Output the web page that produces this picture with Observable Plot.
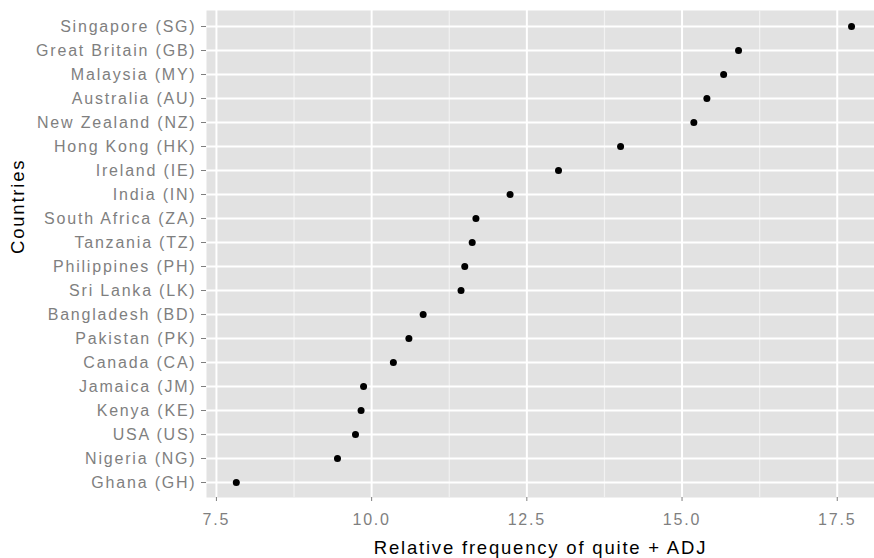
<!DOCTYPE html>
<html>
<head>
<meta charset="utf-8">
<script src="https://cdn.jsdelivr.net/npm/d3@7"></script>
<script src="https://cdn.jsdelivr.net/npm/@observablehq/plot@0.6"></script>
<style>
  html, body { margin: 0; padding: 0; background: #ffffff; }
</style>
</head>
<body>
<div id="chart"></div>
<script>
const countries = [
  "Singapore (SG)", "Great Britain (GB)", "Malaysia (MY)", "Australia (AU)",
  "New Zealand (NZ)", "Hong Kong (HK)", "Ireland (IE)", "India (IN)",
  "South Africa (ZA)", "Tanzania (TZ)", "Philippines (PH)", "Sri Lanka (LK)",
  "Bangladesh (BD)", "Pakistan (PK)", "Canada (CA)", "Jamaica (JM)",
  "Kenya (KE)", "USA (US)", "Nigeria (NG)", "Ghana (GH)"
];
const values = [
  17.73, 15.91, 15.67, 15.40,
  15.19, 14.01, 13.01, 12.23,
  11.68, 11.62, 11.50, 11.44,
  10.83, 10.60, 10.35, 9.87,
  9.83, 9.74, 9.45, 7.82
];
const xTicks = [7.5, 10, 12.5, 15, 17.5];
const xMinor = [8.75, 11.25, 13.75, 16.25];
const xTitle = "Relative frequency of quite + ADJ";
const yTitle = "Countries";

const data = countries.map((c, i) => ({country: c, value: values[i]}));

const chart = Plot.plot({
  width: 874,
  height: 558,
  marginLeft: 206,
  marginRight: 0,
  marginTop: 10,
  marginBottom: 61,
  style: {fontFamily: "'Liberation Sans', Arial, sans-serif", letterSpacing: "1.8px", background: "#ffffff"},
  x: {domain: [7.34, 18.1], label: null},
  y: {type: "point", domain: countries, padding: 0.6, label: null},
  marks: [
    Plot.frame({fill: "#E2E2E2", stroke: "none"}),
    Plot.ruleX(xMinor, {stroke: "#F2F2F2", strokeWidth: 1.2}),
    Plot.ruleX(xTicks, {stroke: "#ffffff", strokeWidth: 2}),
    Plot.ruleY(countries, {y: d => d, stroke: "#ffffff", strokeWidth: 2}),
    Plot.axisX(xTicks, {
      tickSize: 4, tickPadding: 12, fontSize: 16,
      stroke: "#7F7F7F", fill: "#7F7F7F",
      tickFormat: d => d.toFixed(1), label: null
    }),
    Plot.axisY({
      tickSize: 5, tickPadding: 5, fontSize: 16,
      stroke: "#7F7F7F", fill: "#7F7F7F", label: null
    }),
    Plot.dot(data, {x: "value", y: "country", r: 3.5, fill: "#000000", stroke: "none"}),
    Plot.text([xTitle], {frameAnchor: "bottom", dy: 51, fontSize: 18.5, fill: "#000000", lineAnchor: "middle"}),
    Plot.text([yTitle], {frameAnchor: "left", dx: -188, rotate: -90, fontSize: 18.5, fill: "#000000", lineAnchor: "middle"})
  ]
});
document.getElementById("chart").appendChild(chart);
</script>
</body>
</html>
